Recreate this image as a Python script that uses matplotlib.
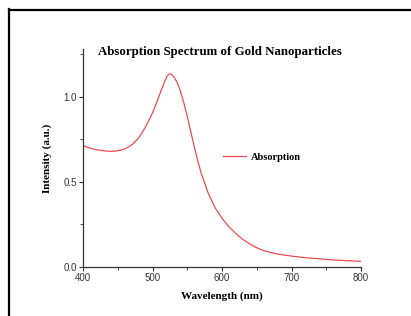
import matplotlib
matplotlib.use("Agg")
import matplotlib.pyplot as plt
from matplotlib.lines import Line2D
from matplotlib.ticker import MultipleLocator

# absorption spectrum
wavelength = [400, 410, 420, 430, 440, 450, 460, 470, 480, 490, 500, 505, 510, 515,
              518, 521, 524, 527, 530, 535, 540, 545, 550, 555, 560, 565, 570, 580,
              590, 600, 610, 620, 630, 640, 650, 660, 670, 680, 690, 700, 720, 740,
              760, 780, 800]
absorbance = [0.712, 0.698, 0.688, 0.682, 0.679, 0.682, 0.693, 0.716, 0.757, 0.822, 0.904,
              0.955, 1.010, 1.063, 1.094, 1.120, 1.134, 1.133, 1.120, 1.088, 1.035,
              0.965, 0.884, 0.796, 0.708, 0.625, 0.552, 0.435, 0.348, 0.286, 0.236,
              0.196, 0.162, 0.135, 0.113, 0.096, 0.085, 0.076, 0.070, 0.064, 0.055,
              0.048, 0.042, 0.037, 0.033]

serif = ["Liberation Serif", "DejaVu Serif"]
sans = ["Liberation Sans", "DejaVu Sans"]

fig = plt.figure(figsize=(4.11, 3.16), dpi=100)
ax = fig.add_axes([83 / 411, 49 / 316, 278 / 411, 218 / 316])

ax.plot(wavelength, absorbance, color="#ec4448", linewidth=0.85, label="Absorption")
ax.set_xlim(400, 800)
ax.set_ylim(0, 1.28)
ax.spines["top"].set_visible(False)
ax.spines["right"].set_visible(False)
for s in ("left", "bottom"):
    ax.spines[s].set_color("#333333")
    ax.spines[s].set_linewidth(0.9)

ax.xaxis.set_major_locator(MultipleLocator(100))
ax.xaxis.set_minor_locator(MultipleLocator(50))
ax.yaxis.set_major_locator(MultipleLocator(0.5))
ax.yaxis.set_minor_locator(MultipleLocator(0.25))
ax.tick_params(which="major", direction="out", length=3, width=0.8, color="#333333",
               labelsize=7, labelcolor="#333333", pad=1.5)
ax.tick_params(which="minor", direction="out", length=2, width=0.6, color="#333333")
for lab in ax.get_xticklabels() + ax.get_yticklabels():
    lab.set_family(sans)

ax.set_xlabel("Wavelength (nm)", family=serif, fontweight="bold", fontsize=8, labelpad=6)
ax.set_ylabel("Intensity (a.u.)", family=serif, fontweight="bold", fontsize=8, labelpad=8)
fig.text(0.536, 0.835, "Absorption Spectrum of Gold Nanoparticles", family=serif,
         fontweight="bold", fontsize=9.3, ha="center", va="center")

ax.legend(loc="center left", bbox_to_anchor=(0.47, 0.505), frameon=False,
          prop={"family": serif, "weight": "bold", "size": 7.5},
          handlelength=2.2, handletextpad=0.5)

# black frame on the left and top of the figure
fig.add_artist(Line2D([9 / 411, 9 / 411], [0, 1 - 9 / 316], transform=fig.transFigure,
                      color="black", linewidth=1.6))
fig.add_artist(Line2D([9 / 411, 410 / 411], [1 - 9.5 / 316, 1 - 9.5 / 316],
                      transform=fig.transFigure, color="black", linewidth=1.6))

fig.savefig("out.png", dpi=100)
